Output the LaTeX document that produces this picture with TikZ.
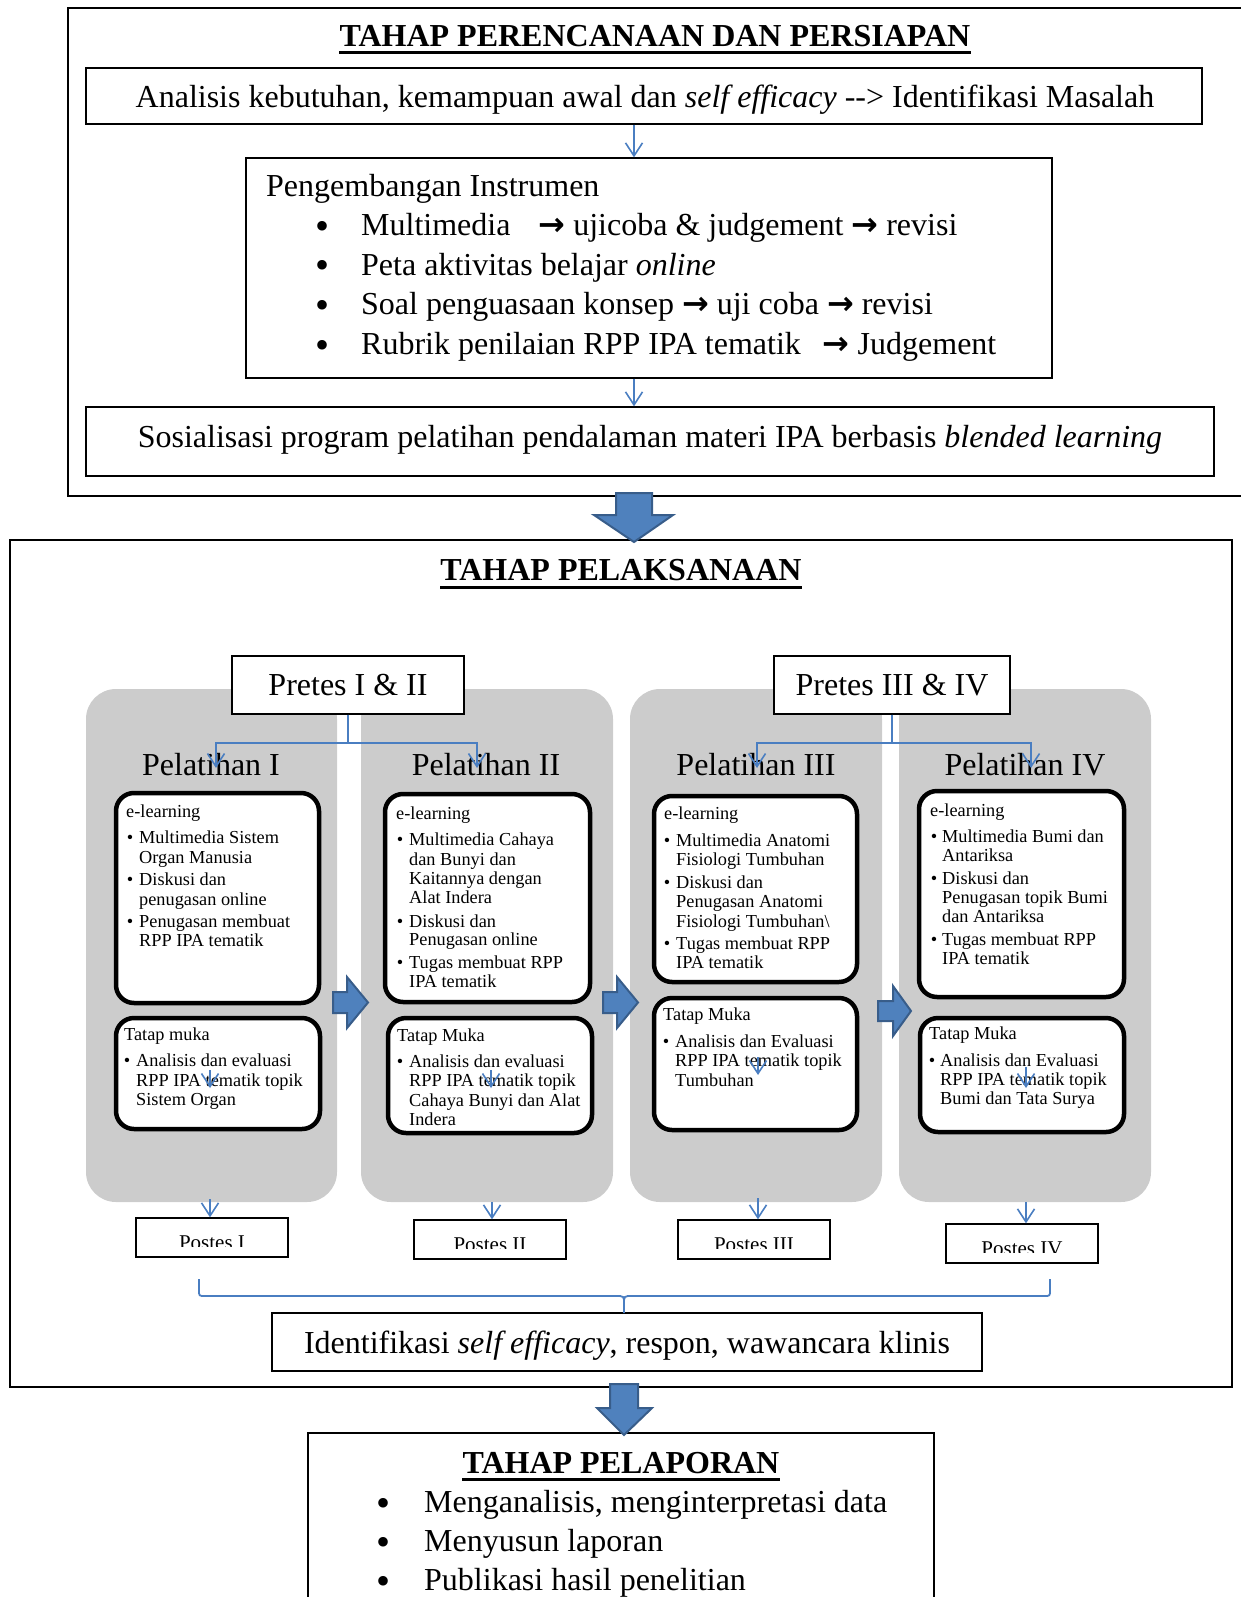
\documentclass[tikz,border=0pt]{standalone}
\usepackage{fontspec}
\setmainfont{Liberation Serif}
\newfontfamily\arrfont{DejaVu Sans}
\usetikzlibrary{arrows.meta}
\definecolor{panelgray}{RGB}{204,204,204}
\definecolor{lineblue}{RGB}{74,126,193}
\definecolor{arrfill}{RGB}{79,129,189}
\definecolor{arrdraw}{RGB}{56,93,138}
\tikzset{
  ttl/.style={font=\fontsize{32}{38}\selectfont\bfseries, inner sep=0, anchor=base},
  bigw/.style={font=\fontsize{32}{38}\selectfont, inner sep=0, anchor=base west},
  bigc/.style={font=\fontsize{32}{38}\selectfont, inner sep=0, anchor=base},
  bigbul/.style={font=\fontsize{40}{40}\selectfont, inner sep=0, anchor=base},
  sm/.style={font=\fontsize{18.3}{20}\selectfont, inner sep=0, anchor=base west},
  smb/.style={font=\fontsize{18.3}{20}\selectfont, inner sep=0, anchor=base},
  pst/.style={font=\fontsize{21}{24}\selectfont, inner sep=0, anchor=base},
  box/.style={draw=black, line width=1.3pt, fill=white},
  ibox/.style={draw=black, line width=4.5pt, rounded corners=18pt, fill=white},
  panel/.style={fill=panelgray, rounded corners=30pt},
  conn/.style={draw=lineblue, line width=1.8pt, -{Straight Barb[length=13pt,width=17pt,line width=1.6pt]}},
  brc/.style={draw=lineblue, line width=1.8pt},
  blk/.style={fill=arrfill, draw=arrdraw, line width=2pt, line join=miter},
  uline/.style={line width=3pt},
}
\newcommand\rbox[6]{\node[#2, inner sep=0, minimum width={(#5-#3)*1pt}, minimum height={(#6-#4)*1pt}] (#1) at ({(#3+#5)/2},{(#4+#6)/2}) {};}
\newcommand\smline[4]{\node[sm] (#1) at (#2,#3) {#4};}
\newcommand\smbul[3]{\node[smb] (#1) at (#2,#3) {\textbullet};}
\begin{document}
\begin{tikzpicture}[x=1pt,y=-1pt]
\useasboundingbox (0,0) rectangle (1240,1597);
% ---------- section frames
\rbox{secA}{draw=black, line width=1.4pt}{68}{8}{1260}{496}
\rbox{secB}{draw=black, line width=1.4pt}{10}{540}{1232}{1387}
\rbox{secC}{draw=black, line width=1.4pt}{308}{1433}{934}{1620}
% ---------- top section
\node[ttl] (t1) at (655,47) {TAHAP PERENCANAAN DAN PERSIAPAN};
\draw[uline] ([yshift=-6pt]t1.base west) -- ([yshift=-6pt]t1.base east);
\rbox{b1}{box}{86}{68}{1202}{124}
\rbox{b2}{box}{246}{158}{1052}{378}
\rbox{b3}{box}{86}{407}{1214}{476}
\node[bigc] (b1t) at (645,108) {Analisis kebutuhan, kemampuan awal dan \textit{self efficacy} -{}-> Identifikasi Masalah};
\node[bigw] (b2h) at (266,197) {Pengembangan Instrumen};
\node[bigbul] (b2u1) at (322,240) {\textbullet};
\node[bigbul] (b2u2) at (322,279) {\textbullet};
\node[bigbul] (b2u3) at (322,318) {\textbullet};
\node[bigbul] (b2u4) at (322,358) {\textbullet};
\node[bigw] (b2l1) at (361,236) {Multimedia\hspace{20pt} {\arrfont\bfseries →} ujicoba \& judgement {\arrfont\bfseries →} revisi};
\node[bigw] (b2l2) at (361,275) {Peta aktivitas belajar \textit{online}};
\node[bigw] (b2l3) at (361,314) {Soal penguasaan konsep {\arrfont\bfseries →} uji coba {\arrfont\bfseries →} revisi};
\node[bigw] (b2l4) at (361,354) {Rubrik penilaian RPP IPA tematik\hspace{14pt} {\arrfont\bfseries →} Judgement};
\node[bigc] (b3t) at (650,447) {Sosialisasi program pelatihan pendalaman materi IPA berbasis \textit{blended learning}};
\coordinate (ax) at (634,0);
\draw[conn] (b1.south -| ax) -- (b2.north -| ax);
\draw[conn] (b2.south -| ax) -- (b3.north -| ax);
% ---------- middle section
\node[ttl] (t2) at (621,580) {TAHAP PELAKSANAAN};
\draw[uline] ([yshift=-7pt]t2.base west) -- ([yshift=-7pt]t2.base east);
\rbox{pan1}{panel}{86}{689}{337}{1202}
\rbox{pan2}{panel}{361}{689}{613}{1202}
\rbox{pan3}{panel}{630}{689}{882}{1202}
\rbox{pan4}{panel}{899}{689}{1151}{1202}
\rbox{pre1}{box}{232}{656}{464}{714}
\rbox{pre2}{box}{774}{656}{1010}{714}
\node[bigc] (pre1t) at (348,695) {Pretes I \& II};
\node[bigc] (pre2t) at (892,695) {Pretes III \& IV};
\node[bigc] (pl1) at (211,775) {Pelatihan I};
\node[bigc] (pl2) at (486,775) {Pelatihan II};
\node[bigc] (pl3) at (756,775) {Pelatihan III};
\node[bigc] (pl4) at (1025,775) {Pelatihan IV};
% inner boxes
\rbox{e1}{ibox}{116}{793}{319}{1003}
\rbox{m1}{ibox}{116}{1018}{320}{1129}
\rbox{e2}{ibox}{385}{794}{590}{1002}
\rbox{m2}{ibox}{388}{1018}{592}{1133}
\rbox{e3}{ibox}{654}{796}{857}{982}
\rbox{m3}{ibox}{654}{998}{857}{1130}
\rbox{e4}{ibox}{919}{791}{1124}{997}
\rbox{m4}{ibox}{920}{1018}{1124}{1132}
% connectors from pretes
\coordinate (k1) at (216,768);
\coordinate (k2) at (477,768);
\coordinate (k3) at (757,768);
\coordinate (k4) at (1031,768);
\draw[conn] (pre1.south) -- ++(0,28) -| (k1);
\draw[conn] (pre1.south) -- ++(0,28) -| (k2);
\draw[conn] (pre2.south) -- ++(0,28) -| (k3);
\draw[conn] (pre2.south) -- ++(0,28) -| (k4);
% panel 1 text
\smline{p1e0}{126}{817}{e-learning}
\smbul{p1b1}{130}{843}
\smline{p1e1}{139}{843}{Multimedia Sistem}
\smline{p1e2}{139}{863}{Organ Manusia}
\smbul{p1b2}{130}{885}
\smline{p1e3}{139}{885}{Diskusi dan}
\smline{p1e4}{139}{905}{penugasan online}
\smbul{p1b3}{130}{927}
\smline{p1e5}{139}{927}{Penugasan membuat}
\smline{p1e6}{139}{946}{RPP IPA tematik}
\smline{p1t0}{124}{1040}{Tatap muka}
\smbul{p1tb}{127}{1066}
\smline{p1t1}{136}{1066}{Analisis dan evaluasi}
\smline{p1t2}{136}{1086}{RPP IPA tematik topik}
\smline{p1t3}{136}{1105}{Sistem Organ}
% panel 2 text
\smline{p2e0}{396}{819}{e-learning}
\smbul{p2b1}{400}{845}
\smline{p2e1}{409}{845}{Multimedia Cahaya}
\smline{p2e2}{409}{865}{dan Bunyi dan}
\smline{p2e3}{409}{884}{Kaitannya dengan}
\smline{p2e4}{409}{903}{Alat Indera}
\smbul{p2b2}{400}{927}
\smline{p2e5}{409}{927}{Diskusi dan}
\smline{p2e6}{409}{945}{Penugasan online}
\smbul{p2b3}{400}{968}
\smline{p2e7}{409}{968}{Tugas membuat RPP}
\smline{p2e8}{409}{987}{IPA tematik}
\smline{p2t0}{397}{1041}{Tatap Muka}
\smbul{p2tb}{400}{1067}
\smline{p2t1}{409}{1067}{Analisis dan evaluasi}
\smline{p2t2}{409}{1086}{RPP IPA tematik topik}
\smline{p2t3}{409}{1106}{Cahaya Bunyi dan Alat}
\smline{p2t4}{409}{1125}{Indera}
% panel 3 text
\smline{p3e0}{664}{819}{e-learning}
\smbul{p3b1}{667}{846}
\smline{p3e1}{676}{846}{Multimedia Anatomi}
\smline{p3e2}{676}{865}{Fisiologi Tumbuhan}
\smbul{p3b2}{667}{888}
\smline{p3e3}{676}{888}{Diskusi dan}
\smline{p3e4}{676}{907}{Penugasan Anatomi}
\smline{p3e5}{676}{927}{Fisiologi Tumbuhan\textbackslash}
\smbul{p3b3}{667}{949}
\smline{p3e6}{676}{949}{Tugas membuat RPP}
\smline{p3e7}{676}{968}{IPA tematik}
\smline{p3t0}{663}{1020}{Tatap Muka}
\smbul{p3tb}{666}{1047}
\smline{p3t1}{675}{1047}{Analisis dan Evaluasi}
\smline{p3t2}{675}{1066}{RPP IPA tematik topik}
\smline{p3t3}{675}{1086}{Tumbuhan}
% panel 4 text
\smline{p4e0}{930}{816}{e-learning}
\smbul{p4b1}{934}{842}
\smline{p4e1}{942}{842}{Multimedia Bumi dan}
\smline{p4e2}{942}{861}{Antariksa}
\smbul{p4b2}{934}{884}
\smline{p4e3}{942}{884}{Diskusi dan}
\smline{p4e4}{942}{903}{Penugasan topik Bumi}
\smline{p4e5}{942}{922}{dan Antariksa}
\smbul{p4b3}{934}{945}
\smline{p4e6}{942}{945}{Tugas membuat RPP}
\smline{p4e7}{942}{964}{IPA tematik}
\smline{p4t0}{929}{1039}{Tatap Muka}
\smbul{p4tb}{932}{1066}
\smline{p4t1}{940}{1066}{Analisis dan Evaluasi}
\smline{p4t2}{940}{1085}{RPP IPA tematik topik}
\smline{p4t3}{940}{1104}{Bumi dan Tata Surya}
% stray arrow tips inside tatap muka boxes
\coordinate (s1a) at (210,1070); \coordinate (s1b) at (210,1088);
\coordinate (s2a) at (491,1070); \coordinate (s2b) at (491,1088);
\coordinate (s3a) at (758,1057); \coordinate (s3b) at (758,1075);
\coordinate (s4a) at (1026,1067); \coordinate (s4b) at (1026,1088);
\draw[conn] (s1a) -- (s1b);
\draw[conn] (s2a) -- (s2b);
\draw[conn] (s3a) -- (s3b);
\draw[conn] (s4a) -- (s4b);
% block arrows between panels
\draw[blk] (333,992) -- (347,992) -- (347,977) -- (368,1002.5) -- (347,1028) -- (347,1013) -- (333,1013) -- cycle;
\draw[blk] (603,992) -- (617,992) -- (617,977) -- (638,1002.5) -- (617,1028) -- (617,1013) -- (603,1013) -- cycle;
\draw[blk] (878,1001) -- (893,1001) -- (893,986) -- (911,1011) -- (893,1036) -- (893,1021) -- (878,1021) -- cycle;
% postes
\rbox{po1}{box}{136}{1218}{288}{1257}
\rbox{po2}{box}{414}{1220}{566}{1259}
\rbox{po3}{box}{678}{1220}{830}{1259}
\rbox{po4}{box}{946}{1224}{1098}{1263}
\begin{scope}
\clip (po1.north west) rectangle ([yshift=11pt]po1.south east);
\node[pst] (po1t) at ([yshift=8pt]po1.south) {Postes I};
\end{scope}
\begin{scope}
\clip (po2.north west) rectangle ([yshift=11pt]po2.south east);
\node[pst] (po2t) at ([yshift=8pt]po2.south) {Postes II};
\end{scope}
\begin{scope}
\clip (po3.north west) rectangle ([yshift=11pt]po3.south east);
\node[pst] (po3t) at ([yshift=8pt]po3.south) {Postes III};
\end{scope}
\begin{scope}
\clip (po4.north west) rectangle ([yshift=11pt]po4.south east);
\node[pst] (po4t) at ([yshift=8pt]po4.south) {Postes IV};
\end{scope}
\coordinate (q1) at (210,0);
\coordinate (q2) at (492,0);
\coordinate (q3) at (758,0);
\coordinate (q4) at (1026,0);
\draw[conn] ([yshift=3pt]pan1.south -| q1) -- (po1.north -| q1);
\draw[conn] (pan2.south -| q2) -- (po2.north -| q2);
\draw[conn] ([yshift=4pt]pan3.south -| q3) -- (po3.north -| q3);
\draw[conn] (pan4.south -| q4) -- (po4.north -| q4);
% identifikasi
\rbox{idf}{box}{272}{1313}{982}{1371}
\node[bigc] (idft) at (627,1353) {Identifikasi \textit{self efficacy}, respon, wawancara klinis};
\coordinate (bm) at (624,1313);
\draw[brc] (199,1279) -- (199,1290) .. controls (199,1296) .. (205,1296) -- (616,1296) .. controls (624,1296) .. (624,1304) -- (bm);
\draw[brc] (1050,1279) -- (1050,1290) .. controls (1050,1296) .. (1044,1296) -- (632,1296) .. controls (624,1296) .. (624,1304);
% bottom section
\node[ttl] (t3) at (621,1473) {TAHAP PELAPORAN};
\draw[uline] ([yshift=-6pt]t3.base west) -- ([yshift=-6pt]t3.base east);
\node[bigbul] (c1) at (383,1516) {\textbullet};
\node[bigbul] (c2) at (383,1555) {\textbullet};
\node[bigbul] (c3) at (383,1594) {\textbullet};
\node[bigw] (cl1) at (424,1512) {Menganalisis, menginterpretasi data};
\node[bigw] (cl2) at (424,1551) {Menyusun laporan};
\node[bigw] (cl3) at (424,1590) {Publikasi hasil penelitian};
% big block arrows between sections
\draw[blk] (616,493) -- (652,493) -- (652,515) -- (673,515) -- (634,542) -- (594,515) -- (616,515) -- cycle;
\draw[blk] (610,1384) -- (638,1384) -- (638,1408) -- (652,1408) -- (624,1435) -- (597,1408) -- (610,1408) -- cycle;
\end{tikzpicture}
\end{document}
